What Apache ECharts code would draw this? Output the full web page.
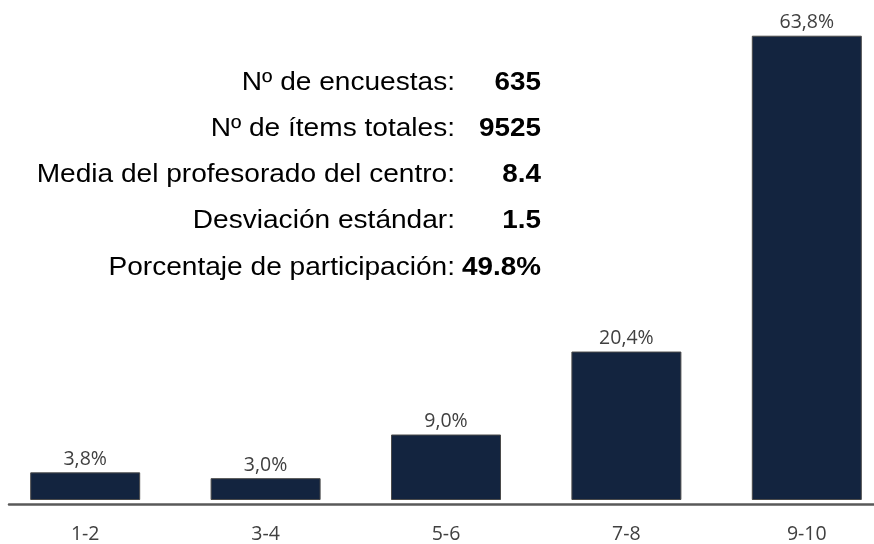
<!DOCTYPE html>
<html>
<head>
<meta charset="utf-8">
<script src="https://cdn.jsdelivr.net/npm/echarts@6/dist/echarts.min.js"></script>
<style>
  html, body { margin: 0; padding: 0; background: #ffffff; overflow: hidden; width: 874px; height: 544px; }
  /* canvas runs slightly past the page so the outer bars sit close to the edges */
  #chart { position: absolute; left: -5px; top: -10px; width: 902px; height: 554px; }
</style>
</head>
<body>
<div id="chart"></div>
<script>
// Score ranges and share of answers in each range (%)
const categories = ['1-2', '3-4', '5-6', '7-8', '9-10'];
const percentages = [3.8, 3.0, 9.0, 20.4, 63.8];

// Summary figures shown in the upper-left block
const statLabels = [
  'Nº de encuestas:',
  'Nº de ítems totales:',
  'Media del profesorado del centro:',
  'Desviación estándar:',
  'Porcentaje de participación:'
];
const statValues = ['635', '9525', '8.4', '1.5', '49.8%'];

const BAR_COLOR = '#13243f';
const TEXT_GREY = '#404040';
const AXIS_GREY = '#595959';

// canvas offset relative to the page
const OX = 5, OY = 10;

const fmtPct = v => v.toFixed(1).replace('.', ',') + '%';

// Summary block: labels right-aligned in one column, bold values in another
const statGraphics = [];
statLabels.forEach((label, i) => {
  const y = OY + 82.5 + i * 46.25;
  statGraphics.push({
    type: 'text', x: OX + 455, y: y, scaleX: 1.08,
    style: {
      text: label, fill: '#000000',
      font: '26px "Liberation Sans", Arial, sans-serif',
      textAlign: 'right', textVerticalAlign: 'middle'
    }
  });
  statGraphics.push({
    type: 'text', x: OX + 541, y: y, scaleX: 1.07,
    style: {
      text: statValues[i], fill: '#000000',
      font: 'bold 26px "Liberation Sans", Arial, sans-serif',
      textAlign: 'right', textVerticalAlign: 'middle'
    }
  });
});

const chart = echarts.init(document.getElementById('chart'), null, { renderer: 'canvas' });
chart.setOption({
  animation: false,
  backgroundColor: '#ffffff',
  grid: [
    { left: 0, right: 0, top: 0.6, bottom: 41, containLabel: false },
    { left: 14, right: 23, top: 0.6, bottom: 39.6, containLabel: false }
  ],
  xAxis: [
    {
      type: 'category', gridIndex: 0, data: categories,
      axisLine: { show: false }, axisTick: { show: false },
      axisLabel: {
        color: TEXT_GREY, fontFamily: '"Open Sans", sans-serif', fontSize: 19.5, margin: 24
      }
    },
    {
      // baseline rule under the bars
      type: 'value', gridIndex: 1, min: 0, max: 1,
      axisLine: { show: true, lineStyle: { color: AXIS_GREY, width: 2.5 } },
      axisTick: { show: false }, axisLabel: { show: false }, splitLine: { show: false }
    }
  ],
  yAxis: [
    { type: 'value', gridIndex: 0, min: 0, max: 70, show: false },
    { type: 'value', gridIndex: 1, min: 0, max: 1, show: false }
  ],
  graphic: statGraphics,
  series: [{
    type: 'bar', xAxisIndex: 0, yAxisIndex: 0,
    data: percentages, barWidth: 110,
    itemStyle: { color: BAR_COLOR, borderColor: '#4a4a4a', borderWidth: 1 },
    label: {
      show: true, position: 'top', distance: 3,
      color: TEXT_GREY, fontFamily: '"Open Sans", sans-serif', fontSize: 19.5,
      formatter: p => fmtPct(p.value)
    }
  }]
});
</script>
</body>
</html>
